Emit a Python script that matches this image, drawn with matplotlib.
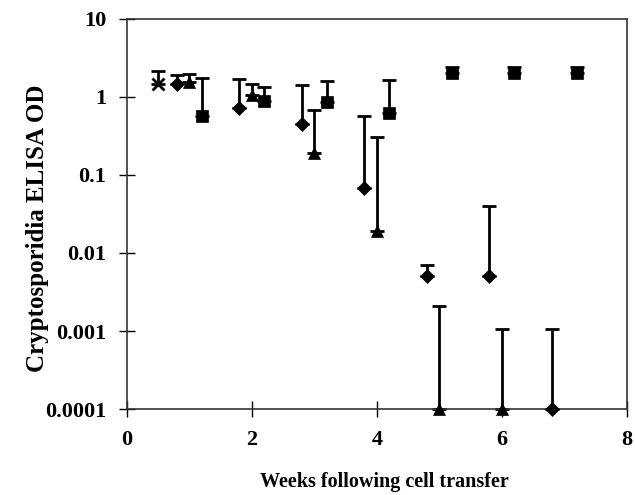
import matplotlib
matplotlib.use("Agg")
import matplotlib.pyplot as plt
import numpy as np

# Star (x) series
star_weeks = [0.5]
star_vals = [1.47]
star_upper = [2.15]

# Diamond series
diamond_weeks = [0.8, 1.8, 2.8, 3.8, 4.8, 5.8, 6.8]
diamond_vals = [1.47, 0.72, 0.45, 0.068, 0.005, 0.005, 0.0001]
diamond_upper = [1.9, 1.7, 1.42, 0.57, 0.007, 0.04, 0.00105]

# Triangle series
triangle_weeks = [1.0, 2.0, 3.0, 4.0, 5.0, 6.0]
triangle_vals = [1.55, 1.05, 0.19, 0.019, 0.0001, 0.0001]
triangle_upper = [1.97, 1.47, 0.68, 0.31, 0.0021, 0.00105]

# Square series
square_weeks = [1.2, 2.2, 3.2, 4.2, 5.2, 6.2, 7.2]
square_vals = [0.57, 0.9, 0.86, 0.62, 2.0, 2.0, 2.0]
square_upper = [1.75, 1.35, 1.6, 1.65, 2.4, 2.4, 2.4]

x_ticks = [0, 2, 4, 6, 8]
y_ticks = [0.0001, 0.001, 0.01, 0.1, 1, 10]
y_ticklabels = ["0.0001", "0.001", "0.01", "0.1", "1", "10"]

plt.rcParams['font.family'] = ['Liberation Serif', 'DejaVu Serif']
plt.rcParams['font.weight'] = 'bold'

fig = plt.figure(figsize=(6.35, 4.95), dpi=100)
ax = fig.add_axes([0.2, 0.1737, 0.787, 0.788])

series = [
    (star_weeks, star_vals, star_upper, 'x', 8),
    (diamond_weeks, diamond_vals, diamond_upper, 'D', 7),
    (triangle_weeks, triangle_vals, triangle_upper, '^', 9),
    (square_weeks, square_vals, square_upper, 's', 9),
]
for w, v, u, m, ms in series:
    v = np.array(v)
    u = np.array(u)
    err = np.vstack([np.zeros_like(v), u - v])
    ax.errorbar(w, v, yerr=err, fmt='none', ecolor='black', elinewidth=2,
                capsize=5, capthick=2, clip_on=False, zorder=2)
    ax.plot(w, v, linestyle='none', marker=m, markersize=ms, color='black',
            markeredgewidth=2 if m == 'x' else 0.5, clip_on=False, zorder=3)

ax.set_yscale('log')
ax.set_xlim(0, 8)
ax.set_ylim(0.0001, 10)
ax.set_xticks(x_ticks)
ax.set_xticklabels([str(t) for t in x_ticks])
ax.set_yticks(y_ticks)
ax.set_yticklabels(y_ticklabels)
ax.yaxis.set_minor_locator(matplotlib.ticker.NullLocator())
ax.tick_params(axis='both', direction='inout', length=12, width=1,
               labelsize=16, pad=9)
for lab in ax.get_xticklabels() + ax.get_yticklabels():
    lab.set_fontweight('bold')
for s in ax.spines.values():
    s.set_linewidth(1.2)
    s.set_color('#333333')

ax.set_xlabel('Weeks following cell transfer', fontsize=14.5, fontweight='bold', va='center')
ax.set_ylabel('Cryptosporidia ELISA OD', fontsize=18, fontweight='bold', va='center')
ax.xaxis.set_label_coords(0.516, -0.187)
ax.yaxis.set_label_coords(-0.18, 0.464)

fig.savefig('out.png', dpi=100)
